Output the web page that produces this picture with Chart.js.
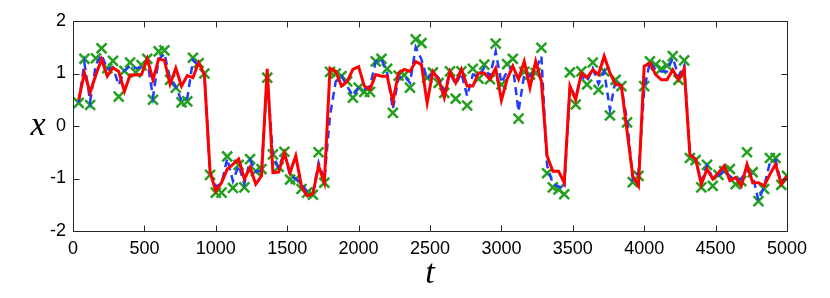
<!DOCTYPE html>
<html>
<head>
<meta charset="utf-8">
<script src="https://cdn.jsdelivr.net/npm/chart.js@4/dist/chart.umd.min.js"></script>
<style>
html,body{margin:0;padding:0;background:#fff;}
canvas{display:block;}
</style>
</head>
<body>
<canvas id="c" width="830" height="298"></canvas>
<script>
// time samples
const times = [40,80,120,160,200,240,280,320,360,400,440,480,520,560,600,640,680,720,760,800,
840,880,920,960,1000,1040,1080,1120,1160,1200,1240,1280,1320,1360,1400,1440,1480,1520,1560,1600,
1640,1680,1720,1760,1800,1840,1880,1920,1960,2000,2040,2080,2120,2160,2200,2240,2280,2320,2360,2400,
2440,2480,2520,2560,2600,2640,2680,2720,2760,2800,2840,2880,2920,2960,3000,3040,3080,3120,3160,3200,
3240,3280,3320,3360,3400,3440,3480,3520,3560,3600,3640,3680,3720,3760,3800,3840,3880,3920,3960,4000,
4040,4080,4120,4160,4200,4240,4280,4320,4360,4400,4440,4480,4520,4560,4600,4640,4680,4720,4760,4800,
4840,4880,4920,4960,5000];

// observations (green crosses)
const observed = [0.44,1.28,0.40,1.29,1.48,1.10,1.24,0.56,1.05,1.21,1.02,1.16,1.28,0.50,1.42,1.44,0.88,0.73,0.45,0.47,
1.30,1.20,1.00,-0.93,-1.27,-1.27,-0.58,-1.18,-0.74,-1.17,-0.63,-0.86,-0.82,0.92,-0.54,-0.78,-0.49,-1.02,-1.01,-1.20,
-1.27,-1.31,-0.50,-1.08,1.03,1.00,0.95,0.85,0.54,0.73,0.65,0.65,1.23,1.28,1.09,0.25,0.96,0.97,0.73,1.65,
1.58,0.92,1.02,0.82,0.63,1.04,0.52,1.04,0.39,1.09,0.90,1.17,0.89,1.57,0.79,1.18,1.28,0.14,1.03,0.98,
1.01,1.49,-0.90,-1.17,-1.21,-1.30,1.02,0.41,1.04,0.79,1.21,0.69,1.04,0.20,0.88,0.76,0.07,-1.07,-0.95,0.76,
1.23,1.17,1.09,1.15,1.33,0.88,1.25,-0.61,-0.65,-1.17,-0.74,-1.14,-0.93,-0.86,-0.82,-1.11,-1.05,-0.50,-0.88,-1.43,
-1.20,-0.61,-0.61,-1.12,-0.95];

// blue dashed estimate
const filtered = [0.45,1.20,0.47,1.17,1.36,1.08,1.12,0.78,1.05,1.15,1.10,1.12,1.25,0.55,1.27,1.38,0.90,0.75,0.48,0.52,
1.25,1.15,1.00,-0.90,-1.15,-1.10,-0.62,-1.05,-0.75,-1.10,-0.65,-0.87,-0.85,0.90,-0.55,-0.80,-0.50,-0.95,-1.00,-1.10,
-1.25,-1.27,-0.70,-1.03,0.20,0.85,0.95,0.76,0.57,0.73,0.70,0.76,1.23,1.27,1.01,0.32,0.92,0.95,0.82,1.50,
1.27,0.89,1.02,0.92,0.66,1.01,0.79,1.01,0.57,0.98,0.95,1.11,0.95,1.42,0.82,1.04,1.14,0.28,0.98,0.95,
1.08,1.33,-0.75,-1.10,-1.15,-1.20,0.75,0.55,0.95,0.85,1.10,0.80,1.04,0.31,0.88,0.73,0.12,-1.02,-0.89,0.69,
1.23,1.07,1.04,1.04,1.30,0.95,1.15,-0.50,-0.65,-1.05,-0.75,-1.00,-0.95,-0.85,-0.95,-1.05,-1.00,-0.85,-0.95,-1.42,
-1.15,-0.70,-0.65,-1.10,-0.95];

// red solid estimate
const smoothed = [0.50,1.01,0.64,0.97,1.27,0.95,1.11,1.04,0.66,0.97,0.97,0.98,1.28,0.88,1.28,1.25,0.80,1.10,0.76,0.96,
0.92,1.21,0.98,-0.88,-1.24,-1.08,-0.82,-0.73,-0.63,-1.01,-0.79,-1.11,-0.95,1.09,-0.89,-0.88,-0.52,-0.89,-0.57,-1.15,
-1.33,-1.29,-0.76,-1.08,1.10,1.04,0.76,0.85,1.08,1.13,0.76,0.70,0.98,0.95,0.95,0.47,1.01,1.08,1.04,1.23,
1.17,0.44,1.04,0.89,0.54,1.04,0.82,1.08,0.76,0.76,1.01,1.01,0.89,1.10,0.49,0.89,1.14,0.89,1.23,0.73,
1.23,0.85,-0.57,-0.86,-0.86,-1.08,0.76,0.50,1.01,0.92,1.07,0.98,1.33,1.01,0.79,0.77,-0.10,-0.95,-1.14,1.14,
1.20,0.98,0.88,0.88,1.07,0.88,1.09,-0.55,-0.63,-1.11,-0.82,-1.01,-0.89,-0.76,-1.04,-0.98,-1.14,-0.73,-1.08,-1.08,
-1.14,-0.92,-0.73,-1.11,-0.95];

const xTicks = [0,500,1000,1500,2000,2500,3000,3500,4000,4500,5000];
const yTicks = [-2,-1,0,1,2];
const xLabel = 't';
const yLabel = 'x';

const pts = arr => times.map((t,i)=>({x:t, y:arr[i]}));
const TICKFONT = {family:"'Liberation Sans Narrow','Liberation Sans',Arial,sans-serif", size:18};
const AXIS = '#262626';

const framePlugin = {
  id:'frame',
  afterDraw(chart){
    const {ctx, chartArea:a, scales} = chart;
    const xs = scales.x, ys = scales.y;
    ctx.save();
    ctx.strokeStyle = AXIS;
    ctx.lineWidth = 1;
    const L = Math.round(a.left)+0.5, R = Math.round(a.right)+0.5, T = Math.round(a.top)+0.5, B = Math.round(a.bottom)+0.5;
    ctx.beginPath();
    ctx.rect(L, T, R-L, B-T);
    const tl = 6;
    xTicks.forEach(v=>{
      const p = Math.round(xs.getPixelForValue(v))+0.5;
      ctx.moveTo(p,B); ctx.lineTo(p,B-tl);
      ctx.moveTo(p,T); ctx.lineTo(p,T+tl);
    });
    yTicks.forEach(v=>{
      const p = Math.round(ys.getPixelForValue(v))+0.5;
      ctx.moveTo(L,p); ctx.lineTo(L+tl,p);
      ctx.moveTo(R,p); ctx.lineTo(R-tl,p);
    });
    ctx.stroke();
    ctx.fillStyle = '#000';
    ctx.font = "italic 34px 'Liberation Serif','DejaVu Serif',serif";
    ctx.textAlign = 'center';
    ctx.textBaseline = 'alphabetic';
    ctx.fillText(xLabel, (a.left+a.right)/2, 283);
    ctx.fillText(yLabel, 38, 135);
    ctx.restore();
  }
};

new Chart(document.getElementById('c'), {
  type:'line',
  data:{
    datasets:[
      {label:'smoothed', data:pts(smoothed), borderColor:'#ff0000', borderWidth:3, pointRadius:0, tension:0, fill:false, order:0},
      {label:'filtered', data:pts(filtered), borderColor:'#1f3cff', borderWidth:2.5, borderDash:[8,5], pointRadius:0, tension:0, fill:false, order:1},
      {label:'observed', data:pts(observed), showLine:false, pointStyle:'crossRot', pointRadius:7, pointBorderWidth:2.5,
       borderColor:'#22a01e', backgroundColor:'#22a01e', pointBorderColor:'#22a01e', order:2}
    ]
  },
  options:{
    responsive:false,
    animation:false,
    devicePixelRatio:1,
    layout:{padding:{left:0, top:21, right:43, bottom:0}},
    plugins:{legend:{display:false}, tooltip:{enabled:false}},
    scales:{
      x:{
        type:'linear', min:0, max:5000,
        afterBuildTicks(s){ s.ticks = xTicks.map(v=>({value:v})); },
        afterFit(s){ s.height = 67; },
        grid:{display:false, drawTicks:false},
        border:{display:false},
        ticks:{font:TICKFONT, color:'#000', padding:7, maxRotation:0, autoSkip:false, callback:v=>String(v)}
      },
      y:{
        type:'linear', min:-2, max:2,
        afterBuildTicks(s){ s.ticks = yTicks.map(v=>({value:v})); },
        afterFit(s){ s.width = 73; },
        grid:{display:false, drawTicks:false},
        border:{display:false},
        ticks:{font:TICKFONT, color:'#000', padding:7, callback:v=>String(v)}
      }
    }
  },
  plugins:[framePlugin]
});
</script>
</body>
</html>
